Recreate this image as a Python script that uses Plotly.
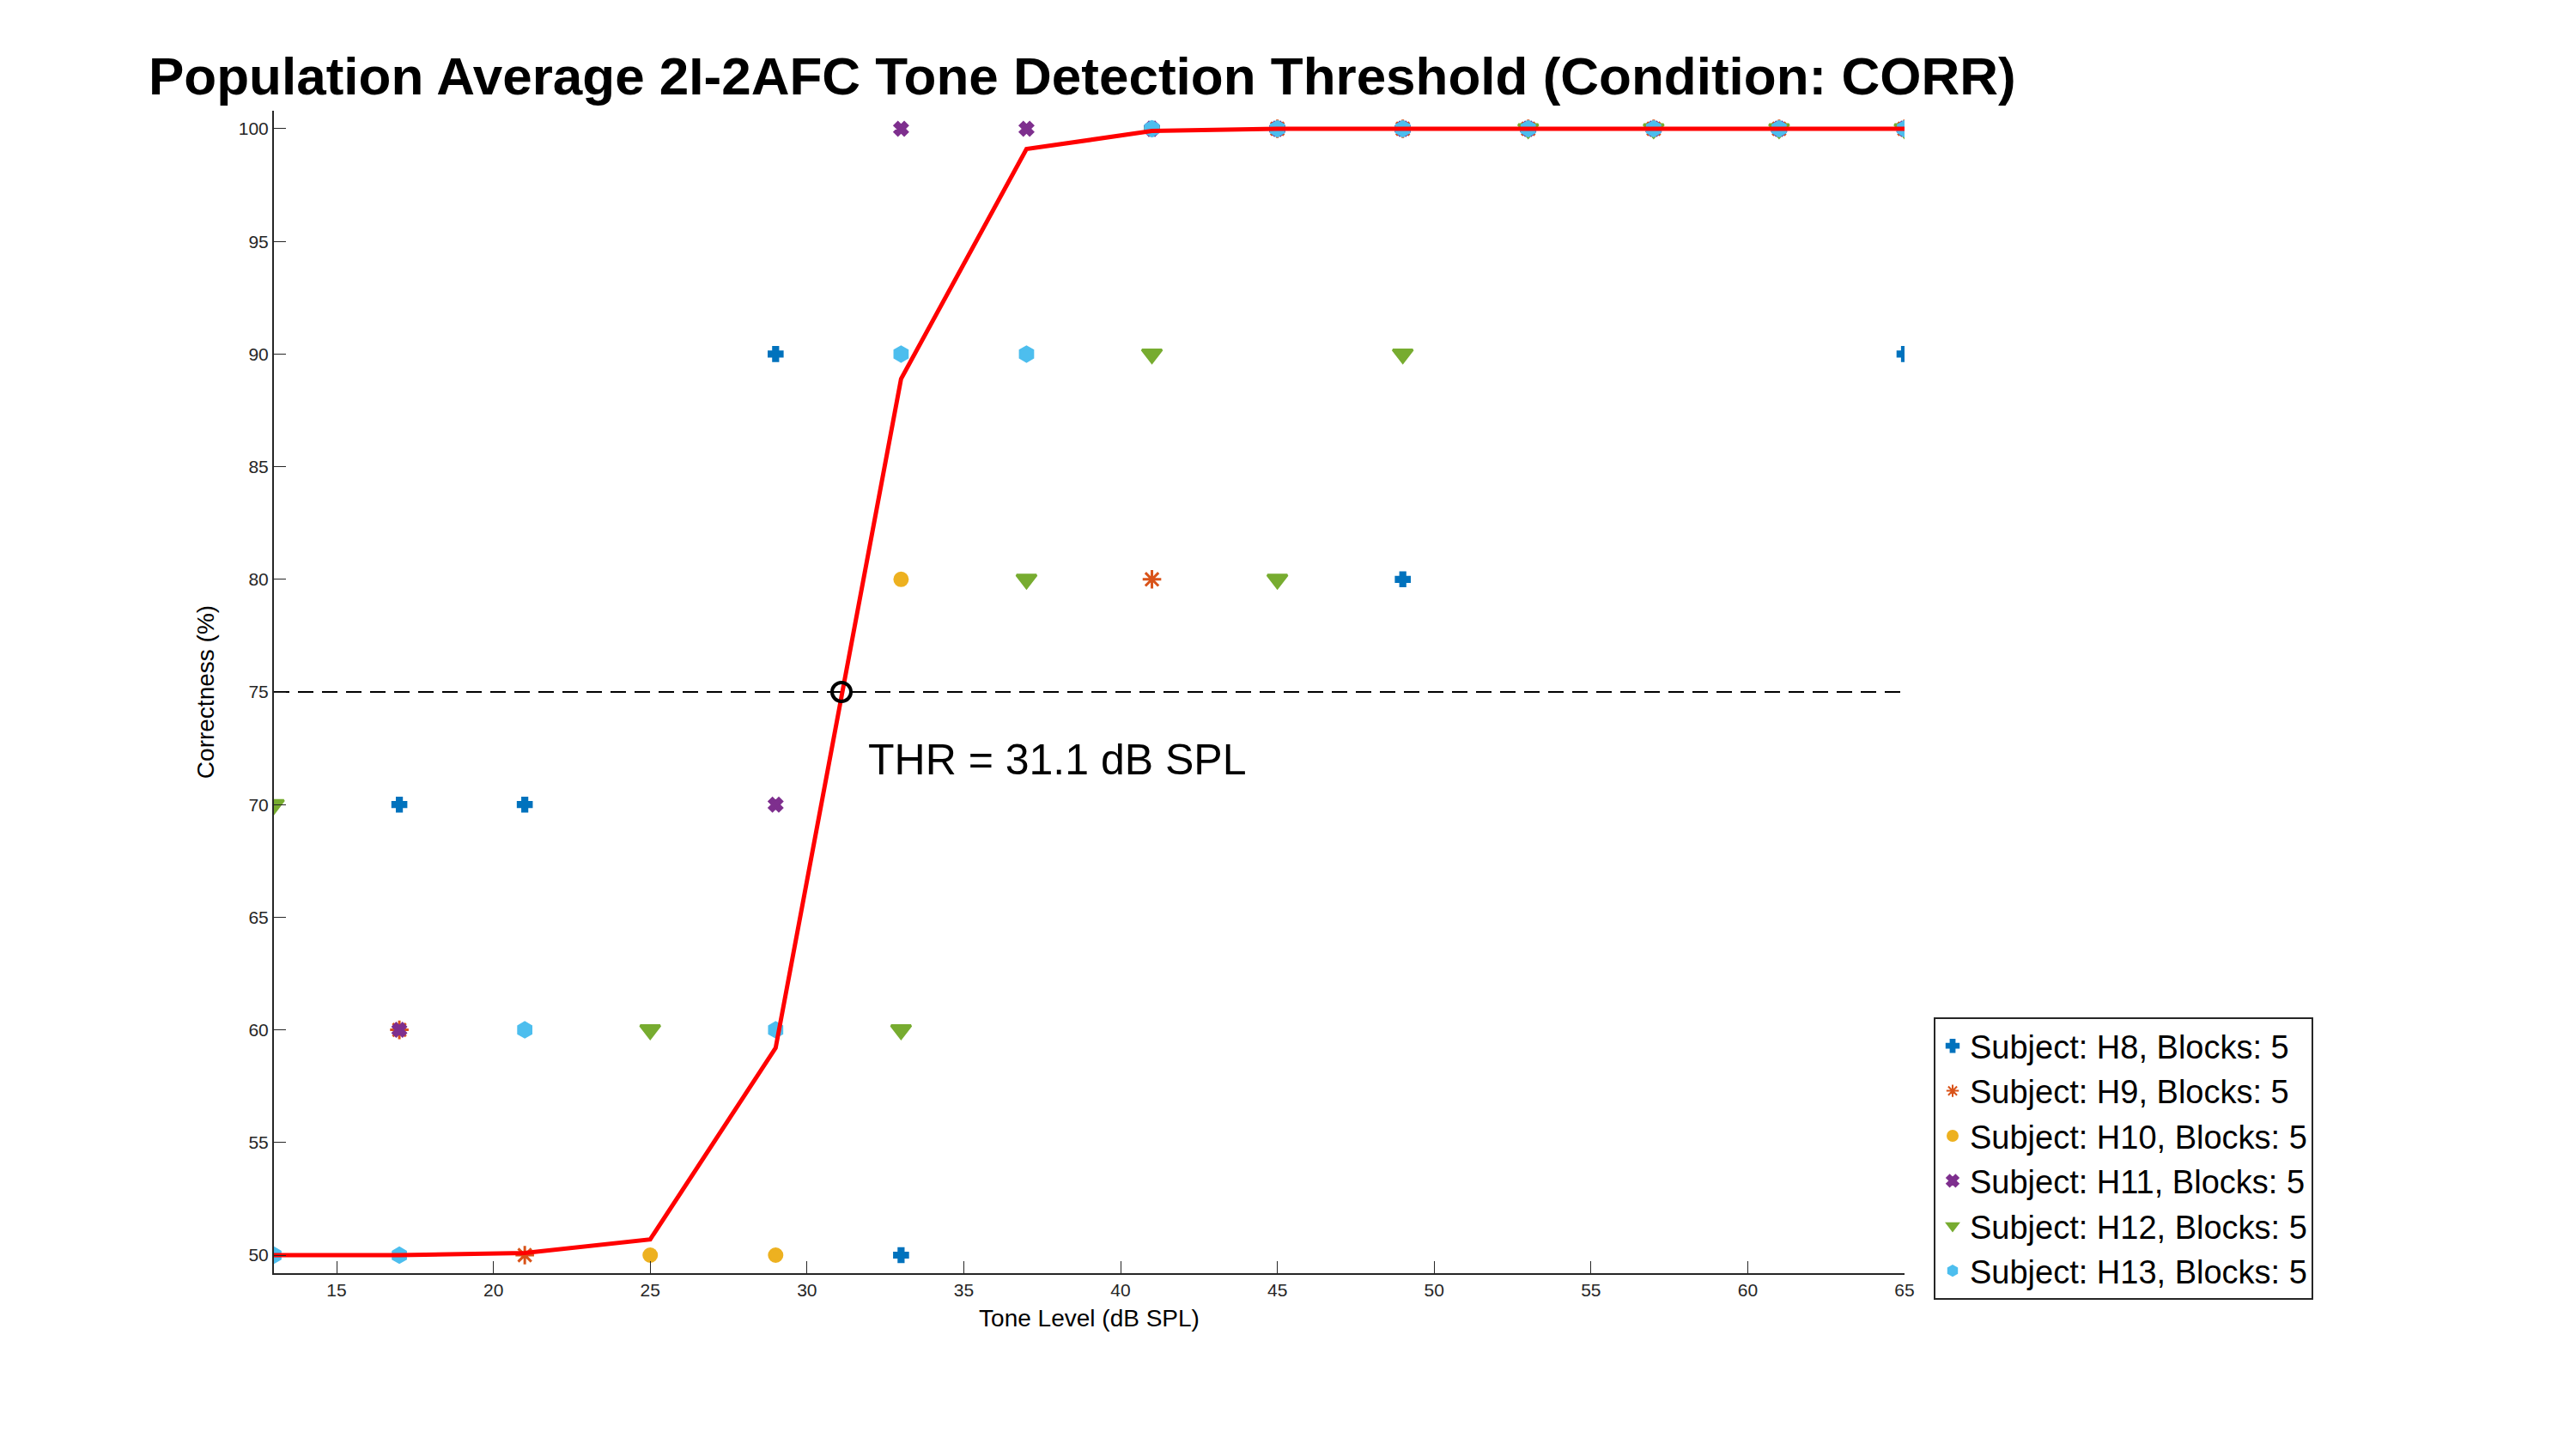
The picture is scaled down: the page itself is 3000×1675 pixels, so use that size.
import plotly.graph_objects as go

levels = [13, 17, 21, 25, 29, 33, 37, 41, 45, 49, 53, 57, 61, 65]
fit_y = [50.0, 50.0, 50.1, 50.7, 59.2, 88.9, 99.1, 99.9, 100, 100, 100, 100, 100, 100]
thr_x, thr_y = 31.1, 75

subjects = ["H8", "H9", "H10", "H11", "H12", "H13"]
colors = ["#0072BD", "#D95319", "#EDB120", "#7E2F8E", "#77AC30", "#4DBEEE"]
symbols = ["cross", "asterisk-open", "circle", "x", "triangle-down", "hexagon"]
sizes = [13, 18, 15, 13, 20, 17]
sx = {
    "H8": [17, 21, 29, 33, 49, 65, 41, 45, 49, 53, 57, 61, 65],
    "H9": [17, 21, 41, 45, 49, 53, 57, 61, 65],
    "H10": [25, 29, 33, 41, 45, 49, 53, 57, 61, 65],
    "H11": [17, 29, 33, 37, 41, 45, 49, 53, 57, 61, 65],
    "H12": [13, 25, 33, 37, 41, 45, 49, 53, 57, 61, 65],
    "H13": [13, 17, 21, 29, 33, 37, 41, 45, 49, 53, 57, 61, 65],
}
sy = {
    "H8": [70, 70, 90, 50, 80, 90, 100, 100, 100, 100, 100, 100, 100],
    "H9": [60, 50, 80, 100, 100, 100, 100, 100, 100],
    "H10": [50, 50, 80, 100, 100, 100, 100, 100, 100, 100],
    "H11": [60, 70, 100, 100, 100, 100, 100, 100, 100, 100, 100],
    "H12": [70, 60, 60, 80, 90, 80, 90, 100, 100, 100, 100],
    "H13": [50, 50, 60, 60, 90, 90, 100, 100, 100, 100, 100, 100, 100],
}

fig = go.Figure()
for s, c, m, z in zip(subjects, colors, symbols, sizes):
    fig.add_trace(go.Scatter(x=sx[s], y=sy[s], mode="markers", name=f"Subject: {s}, Blocks: 5",
                             marker=dict(color=c, symbol=m, size=z, line=dict(color=c, width=3))))
fig.add_trace(go.Scatter(x=[levels[0], levels[-1]], y=[thr_y, thr_y], mode="lines", showlegend=False,
                         line=dict(color="black", width=2, dash="18px,10px")))
fig.add_trace(go.Scatter(x=levels, y=fit_y, mode="lines", showlegend=False,
                         line=dict(color="#FF0000", width=5)))
fig.add_trace(go.Scatter(x=[thr_x], y=[thr_y], mode="markers", showlegend=False,
                         marker=dict(symbol="circle-open", size=22, color="black", line=dict(width=4))))
fig.add_annotation(x=31.9, y=72, text=f"THR = {thr_x} dB SPL", showarrow=False, xanchor="left",
                   font=dict(size=50, color="black"))

L, R, T, B = 311, 790, 121, 200
ax = dict(showgrid=False, zeroline=False, showline=True, linecolor="#262626", linewidth=2,
          ticks="inside", ticklen=14, tickcolor="#262626", tickfont=dict(size=21, color="#262626"),
          mirror=False)
fig.update_layout(
    width=3000, height=1675, plot_bgcolor="white", paper_bgcolor="white",
    font=dict(family="Liberation Sans, Arial, sans-serif", color="black"),
    margin=dict(l=L, r=R, t=T, b=B),
    title=dict(text="<b>Population Average 2I-2AFC Tone Detection Threshold (Condition: CORR)</b>",
               x=165/3000, xanchor="left", y=1-80/1675, yanchor="middle", font=dict(size=62)),
    xaxis=dict(range=[13, 65], tickvals=list(range(15, 66, 5)),
               title=dict(text="Tone Level (dB SPL)", font=dict(size=28), standoff=12), **ax),
    yaxis=dict(range=[49.2, 100.8], tickvals=list(range(50, 101, 5)),
               title=dict(text="Correctness (%)", font=dict(size=28), standoff=20), **ax),
    legend=dict(x=(2244-L)/(3000-L-R), xanchor="left", y=1-(1177-T)/(1675-T-B), yanchor="top",
                bordercolor="#262626", borderwidth=2, font=dict(size=38), bgcolor="white",
                itemsizing="constant"),
)
fig.write_html("out.html")
